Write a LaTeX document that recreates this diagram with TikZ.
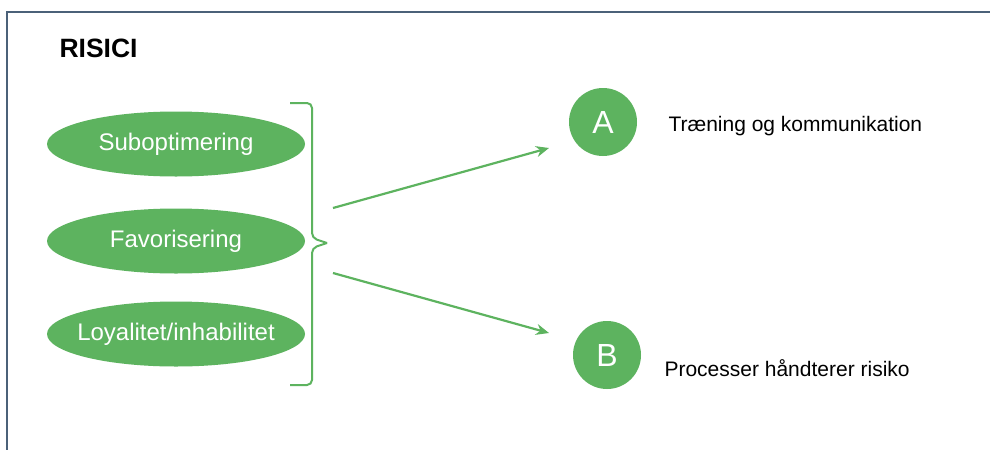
\documentclass[tikz,border=0pt]{standalone}
\usepackage{fontspec}
\setmainfont{Liberation Sans}
\usetikzlibrary{arrows.meta,shapes.geometric}
\definecolor{gr}{HTML}{5DB35F}
\definecolor{frm}{HTML}{4B6179}
\begin{document}
\begin{tikzpicture}[x=1pt,y=-1pt,
  oval/.style={ellipse,fill=gr,minimum width=258pt,minimum height=65pt,inner xsep=-25pt,inner ysep=0pt,text=white,font=\fontsize{24}{24}\selectfont},
  disc/.style={circle,fill=gr,minimum size=68pt,inner sep=0pt,text=white,font=\fontsize{32}{32}\selectfont},
  lbl/.style={anchor=west,font=\fontsize{21}{21}\selectfont},
  conn/.style={draw=gr,line width=2.2pt,-{Stealth[length=13pt,width=11pt]}}]
\useasboundingbox (0,0) rectangle (990,450);
\fill[white] (0,0) rectangle (990,450);
\draw[frm,line width=2pt] (990,12) -- (7,12) -- (7,450);
\node[anchor=west,font=\bfseries\fontsize{26.5}{26.5}\selectfont] (title) at (56,48) {RISICI};
\node[oval] (s1) at (176,144) {Suboptimering};
\node[oval] (s2) at (176,241) {Favorisering};
\node[oval] (s3) at (176,334) {Loyalitet/inhabilitet};
\coordinate (bt) at (290,103);
\coordinate (bb) at (290,385);
\coordinate (bm) at (327,243);
\draw[gr,line width=2pt,rounded corners=5pt] (bt) -- (312,103) -- (312,238) -- (bm);
\draw[gr,line width=2pt,rounded corners=5pt] (bb) -- (312,385) -- (312,248) -- (bm);
\node[disc] (A) at (603,122) {A};
\node[disc] (B) at (607,355) {B};
\coordinate (a0) at (333,208);
\coordinate (a1) at (549,148);
\coordinate (b0) at (333,273);
\coordinate (b1) at (549,333);
\draw[conn] (a0) -- (a1);
\draw[conn] (b0) -- (b1);
\node[lbl] (ta) at (665,126) {Træning og kommunikation};
\node[lbl] (tb) at (661,368) {Processer håndterer risiko};
\end{tikzpicture}
\end{document}
